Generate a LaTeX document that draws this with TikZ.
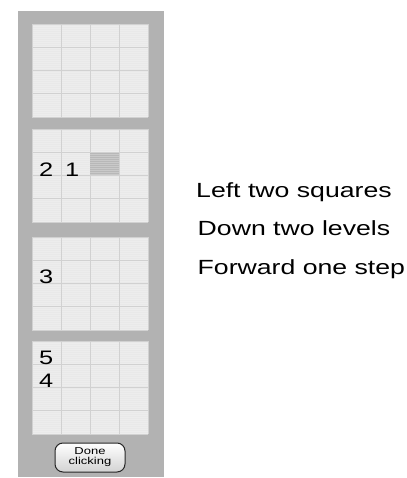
\documentclass[tikz,border=0pt]{standalone}
\usepackage{fontspec}
\usepackage{graphicx}
\setmainfont{Liberation Sans}
\newcommand{\wide}[1]{\scalebox{1.3}[1]{#1}}
\tikzset{
  digit/.style={anchor=base west, inner sep=0pt, font=\fontsize{19.5}{20}\selectfont},
  hint/.style={anchor=base west, inner sep=0pt, font=\fontsize{20.5}{22}\selectfont},
}
\begin{document}
\begin{tikzpicture}[x=1pt, y=-1pt]
  \useasboundingbox (0,0) rectangle (406,478);
  % side panel
  \fill[gray!60] (18,11) rectangle (164,477);
  % the four levels
  \foreach \gy in {24,129,237,341} {
    \fill[gray!14] (32,\gy) rectangle (148,\gy+93);
    \foreach \s in {1,3,...,91}
      \draw[gray!17, line width=0.6pt] (32,\gy+\s) -- (148,\gy+\s);
    \foreach \cx in {32,61,90,119,148}
      \draw[gray!36, line width=0.8pt] (\cx,\gy) -- (\cx,\gy+93);
    \foreach \ry in {0,23.25,46.5,69.75,93}
      \draw[gray!36, line width=0.8pt] (32,\gy+\ry) -- (148,\gy+\ry);
  }
  % clicked square
  \fill[gray!42] (90.4,152.6) rectangle (118.6,175.1);
  \foreach \s in {153.5,155.5,...,174.5}
    \draw[gray!56, line width=0.7pt] (90.4,\s) -- (118.6,\s);
  % click order
  \node[digit] (d2) at (39,176.5) {\wide{2}};
  \node[digit] (d1) at (65,176.5) {\wide{1}};
  \node[digit] (d3) at (39,283.5) {\wide{3}};
  \node[digit] (d5) at (39,364) {\wide{5}};
  \node[digit] (d4) at (39,387) {\wide{4}};
  % button
  \node[draw=gray!30!black, line width=1pt, rounded corners=8pt, top color=white, bottom color=gray!35,
        minimum width=70pt, minimum height=29pt, inner sep=0pt, align=center,
        font=\fontsize{10}{10}\selectfont] (done) at (90,457.5) {\wide{Done}\\\wide{clicking}};
  % instructions
  \node[hint] (left) at (196,197) {\wide{Left two squares}};
  \node[hint] (down) at (197.5,235.5) {\wide{Down two levels}};
  \node[hint] (fwd) at (197.5,274) {\wide{Forward one step}};
\end{tikzpicture}
\end{document}
